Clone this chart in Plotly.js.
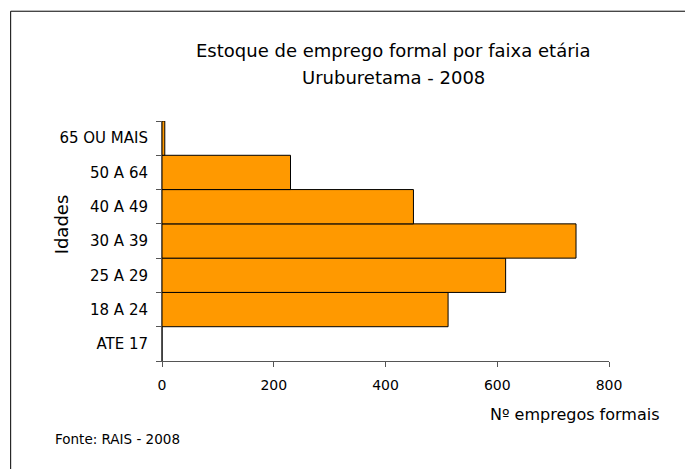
<!DOCTYPE html>
<html>
<head>
<meta charset="utf-8">
<script src="https://cdn.plot.ly/plotly-3.0.1.min.js"></script>
<style>html,body{margin:0;padding:0;background:#fff;}#chart{width:685px;height:469px;}</style>
</head>
<body>
<div id="chart"></div>
<script>
const categories = ["ATE 17", "18 A 24", "25 A 29", "30 A 39", "40 A 49", "50 A 64", "65 OU MAIS"];
const values = [0, 512, 615, 741, 450, 230, 5];
const xTicks = [0, 200, 400, 600, 800];
const titleLines = ["Estoque de emprego formal por faixa etária", "Uruburetama - 2008"];
const xTitle = "Nº empregos formais";
const yTitle = "Idades";
const sourceText = "Fonte: RAIS - 2008";

const W = 685, H = 469;
const L = 161.6, R = 609.4, T = 121, B = 361.5;
const pw = R - L, ph = B - T;
function px(x){ return (x - L) / pw; }
function py(y){ return (B - y) / ph; }

const font = "DejaVu Sans, Verdana, sans-serif";

const trace = {
  type: "bar",
  orientation: "h",
  y: categories,
  x: values,
  marker: {color: "#FF9900", line: {color: "#000000", width: 1}},
  hoverinfo: "none"
};

const layout = {
  width: W, height: H,
  margin: {l: L, r: W - R, t: T, b: H - B, pad: 0},
  paper_bgcolor: "#ffffff",
  plot_bgcolor: "#ffffff",
  bargap: 0,
  showlegend: false,
  font: {family: font, color: "#000"},
  xaxis: {
    range: [0, 800],
    tickvals: xTicks,
    ticktext: xTicks.map(String),
    showgrid: false, zeroline: false,
    showline: true, linecolor: "#555", linewidth: 1,
    ticks: "outside", ticklen: 5, tickcolor: "#555",
    tickfont: {family: font, size: 14, color: "#000"},
    ticklabelstandoff: 6,
    fixedrange: true
  },
  yaxis: {
    type: "category",
    categoryorder: "array",
    categoryarray: categories,
    range: [-0.5, categories.length - 0.5],
    showgrid: false, zeroline: false,
    showline: true, linecolor: "#555", linewidth: 1,
    ticks: "outside", ticklen: 5, tickcolor: "#555",
    tickson: "boundaries",
    tickfont: {family: font, size: 15, color: "#000"},
    ticklabelstandoff: 10,
    fixedrange: true
  },
  shapes: [
    {type: "rect", xref: "paper", yref: "paper",
     x0: px(10), x1: px(700), y0: py(11), y1: py(480),
     line: {color: "#000", width: 1}, fillcolor: "rgba(0,0,0,0)", layer: "below"}
  ],
  annotations: [
    {text: titleLines[0], xref: "paper", yref: "paper", x: px(394), y: py(50),
     xanchor: "center", yanchor: "middle", showarrow: false,
     font: {family: font, size: 18, color: "#000"}},
    {text: titleLines[1], xref: "paper", yref: "paper", x: px(394), y: py(77),
     xanchor: "center", yanchor: "middle", showarrow: false,
     font: {family: font, size: 18, color: "#000"}},
    {text: xTitle, xref: "paper", yref: "paper", x: px(662), y: py(415),
     xanchor: "right", yanchor: "middle", showarrow: false,
     font: {family: font, size: 16, color: "#000"}},
    {text: yTitle, xref: "paper", yref: "paper", x: px(61), y: py(225),
     xanchor: "center", yanchor: "middle", showarrow: false, textangle: -90,
     font: {family: font, size: 18, color: "#000"}},
    {text: sourceText, xref: "paper", yref: "paper", x: px(52), y: py(440),
     xanchor: "left", yanchor: "middle", showarrow: false,
     font: {family: font, size: 13.5, color: "#000"}}
  ]
};

Plotly.newPlot("chart", [trace], layout, {displayModeBar: false, staticPlot: true});
</script>
</body>
</html>
